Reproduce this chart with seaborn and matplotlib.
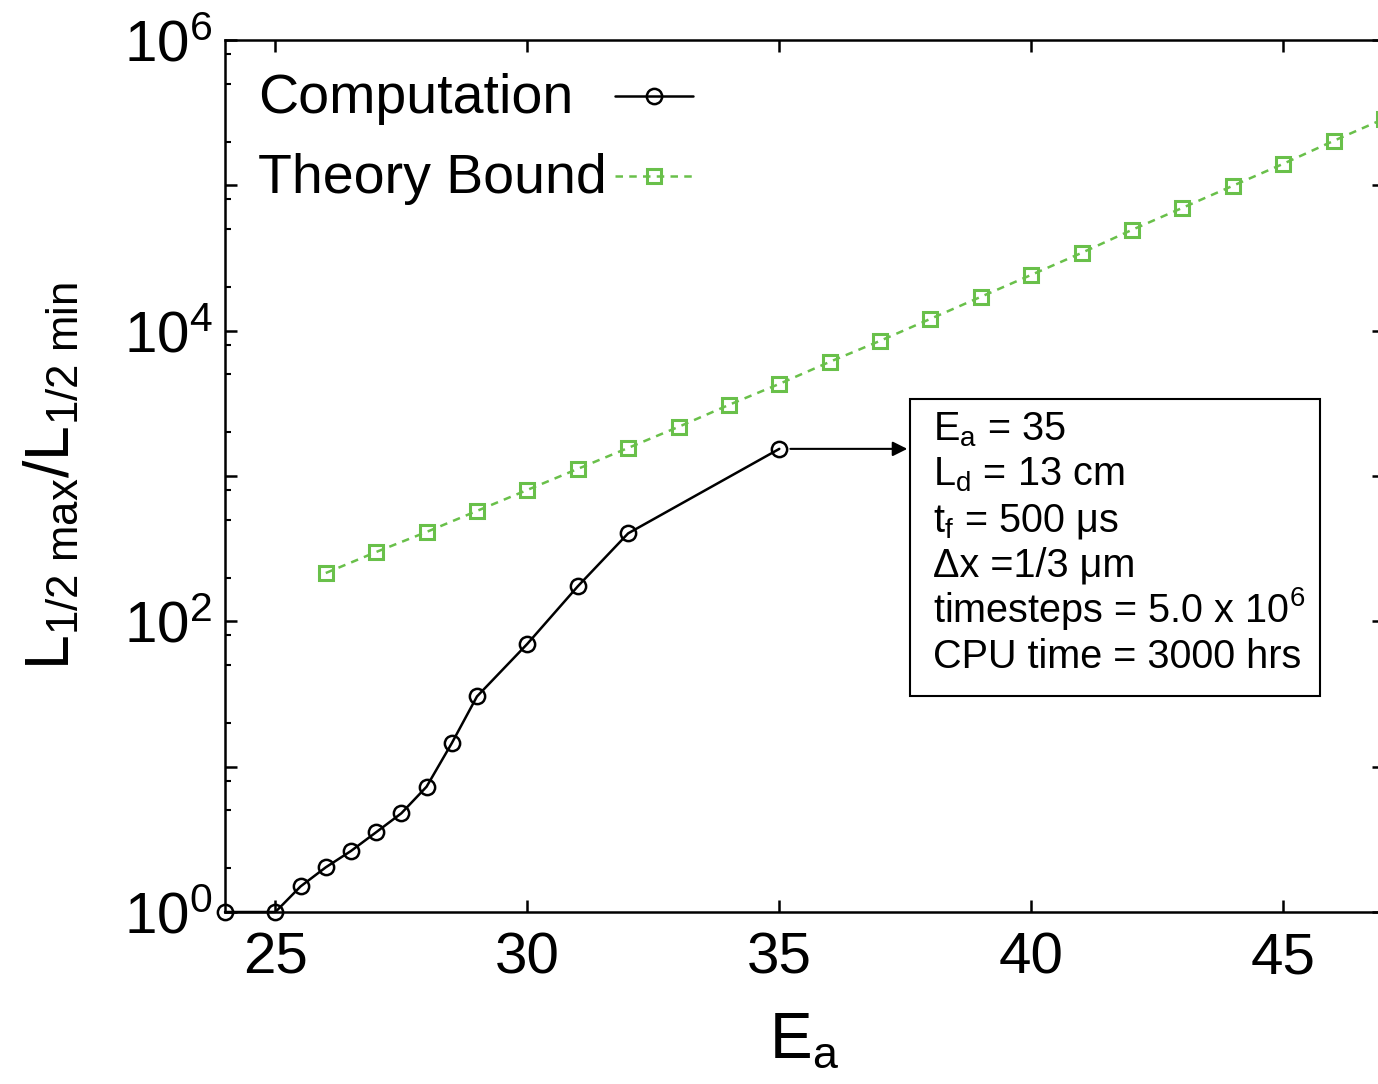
import matplotlib
matplotlib.use('Agg')
import matplotlib.pyplot as plt
import seaborn as sns
from matplotlib.ticker import FixedLocator, FixedFormatter
from matplotlib.patches import Rectangle
from matplotlib.lines import Line2D

# ---- data ----
comp_Ea = [24, 25, 25.5, 26, 26.5, 27, 27.5, 28, 28.5, 29, 30, 31, 32, 35]
comp_ratio = [1.0, 1.0, 1.50, 2.03, 2.63, 3.54, 4.78, 7.28, 14.5, 30.4, 70, 174, 403, 1537]
theory_Ea = [26, 27, 28, 29, 30, 31, 32, 33, 34, 35, 36, 37, 38, 39, 40, 41, 42, 43, 44, 45, 46, 47]
theory_ratio = [215, 300, 412, 575, 802, 1119, 1560, 2178, 3085, 4303, 6100, 8510,
                12060, 17100, 24200, 34300, 49400, 70000, 99300, 140600, 202300, 287000]
series_names = ['Computation', 'Theory Bound']
x_ticks = [25, 30, 35, 40, 45]
y_major = [1e0, 1e1, 1e2, 1e3, 1e4, 1e5, 1e6]
y_major_labels = [r'$\mathregular{10^{0}}$', '', r'$\mathregular{10^{2}}$', '',
                  r'$\mathregular{10^{4}}$', '', r'$\mathregular{10^{6}}$']
y_minor = [m * 10.0 ** k for k in range(6) for m in (2, 5, 8)]
annot_lines = [r'$\mathregular{E_a}$ = 35',
               r'$\mathregular{L_d}$ = 13 cm',
               r'$\mathregular{t_f}$ = 500 μs',
               'Δx =1/3 μm',
               r'timesteps = 5.0 x 10$\mathregular{^6}$',
               'CPU time = 3000 hrs']

sns.set_style('ticks')
plt.rcParams['font.family'] = ['Liberation Sans', 'DejaVu Sans']
plt.rcParams['mathtext.fontset'] = 'custom'
plt.rcParams['mathtext.rm'] = 'Liberation Sans'
plt.rcParams['mathtext.it'] = 'Liberation Sans:italic'
plt.rcParams['mathtext.bf'] = 'Liberation Sans:bold'
for k in ['text.color', 'axes.labelcolor', 'xtick.color', 'ytick.color', 'axes.edgecolor']:
    plt.rcParams[k] = 'black'

W, H = 1378, 1084
fig = plt.figure(figsize=(W / 100, H / 100), dpi=100)
ax = fig.add_axes([225 / W, (H - 912) / H, (1384 - 225) / W, 872 / H])

green = '#69c04a'
comp_style = dict(color='black', marker='o', markersize=11, markeredgecolor='black',
                  markeredgewidth=1.8, markerfacecolor='none', linewidth=1.8)
theory_style = dict(color=green, marker='s', markersize=10, markeredgecolor=green,
                    markeredgewidth=2.2, markerfacecolor='none', linewidth=1.8,
                    linestyle=(0, (3, 2.5)))

sns.lineplot(x=comp_Ea, y=comp_ratio, ax=ax, estimator=None, sort=False,
             color='black', linewidth=1.8, legend=False)
l1 = ax.lines[-1]
l1.set(**comp_style)
l1.set_clip_on(False)
sns.lineplot(x=theory_Ea, y=theory_ratio, ax=ax, estimator=None, sort=False,
             color=green, linewidth=1.8, legend=False)
l2 = ax.lines[-1]
l2.set(**theory_style)
l2.set_clip_on(False)

ax.set_yscale('log')
ax.set_xlim(24, 47)
ax.set_ylim(1, 1e6)
ax.xaxis.set_major_locator(FixedLocator(x_ticks))
ax.yaxis.set_major_locator(FixedLocator(y_major))
ax.yaxis.set_major_formatter(FixedFormatter(y_major_labels))
ax.yaxis.set_minor_locator(FixedLocator(y_minor))
ax.yaxis.set_minor_formatter(FixedFormatter([''] * len(y_minor)))

ax.tick_params(which='both', direction='in', top=True, right=True)
ax.tick_params(which='major', length=8.5, width=1.8, labelsize=42)
ax.tick_params(which='minor', length=4, width=1.5)
ax.tick_params(axis='x', which='major', pad=14)
ax.tick_params(axis='y', which='major', pad=9)
for s in ax.spines.values():
    s.set_linewidth(1.8)
    s.set_color('black')

ax.set_xlabel(r'$\mathregular{E_a}$', fontsize=46, labelpad=18)
ax.set_ylabel(r'$\mathregular{L_{1/2\ max}/L_{1/2\ min}}$', fontsize=45, labelpad=30)

# legend (text left-aligned, handles on the right)
hx0 = (615 - 225) / 1159
hx1 = (693 - 225) / 1159
hxm = (654 - 225) / 1159
tx_leg = (258 - 225) / 1159
for name, style, hy, by in [(series_names[0], comp_style, 96, 113),
                            (series_names[1], theory_style, 176, 193)]:
    yh = (912 - hy) / 872
    st = dict(style)
    mk = {k: st.pop(k) for k in ['marker', 'markersize', 'markeredgecolor',
                                  'markeredgewidth', 'markerfacecolor']}
    ax.add_line(Line2D([hx0, hx1], [yh, yh], transform=ax.transAxes, clip_on=False, **st))
    ax.add_line(Line2D([hxm], [yh], transform=ax.transAxes, clip_on=False,
                       linestyle='none', **mk))
    ax.text(tx_leg, (912 - by) / 872, name, transform=ax.transAxes, fontsize=40,
            va='baseline', ha='left')

# annotation box
x0 = (910 - 225) / 1159
x1 = (1320 - 225) / 1159
yb = (912 - 696) / 872
yt = (912 - 399) / 872
ax.add_patch(Rectangle((x0, yb), x1 - x0, yt - yb, transform=ax.transAxes,
                       fill=True, facecolor='white', edgecolor='black',
                       linewidth=1.5, zorder=5))
tx = (933 - 225) / 1159
for i, line in enumerate(annot_lines):
    base = 440 + 45.6 * i
    ax.text(tx, (912 - base) / 872, line, transform=ax.transAxes, fontsize=28.5,
            va='baseline', ha='left', zorder=6)

ax.annotate('', xy=(37.54, comp_ratio[-1]), xytext=(35.22, comp_ratio[-1]),
            arrowprops=dict(arrowstyle='-|>', color='black', lw=1.5,
                            mutation_scale=22, shrinkA=0, shrinkB=0))

fig.savefig('out.png', dpi=100)
